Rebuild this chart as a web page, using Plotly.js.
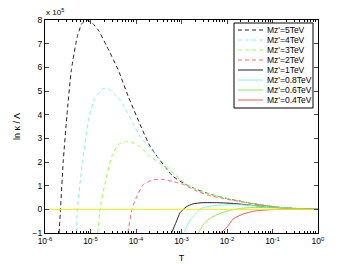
<!DOCTYPE html>
<html><head><meta charset="utf-8">
<script src="https://cdn.plot.ly/plotly-3.0.1.min.js"></script>
<style>html,body{margin:0;padding:0;background:#fff}#c{width:350px;height:264px}</style>
</head><body><div id="c"></div>
<script>
// Data (T values, y in units of 1e5)
const names = ["Mz'=5TeV","Mz'=4TeV","Mz'=3TeV","Mz'=2TeV","Mz'=1TeV","Mz'=0.8TeV","Mz'=0.6TeV","Mz'=0.4TeV"];
const colors = ['#222222','#7ff7e0','#99ff44','#ff6262','#222222','#7ff7e0','#88ee44','#ff5555'];
const dashes = ['4px,3px','4px,3px','4px,3px','4px,3px','solid','solid','solid','solid'];

const T5 = [2.04e-6,2.19e-6,2.51e-6,3.02e-6,3.80e-6,5.13e-6,6.46e-6,8.32e-6,1.12e-5,1.48e-5,2.29e-5,4.07e-5,6.76e-5,2.04e-4,6.46e-4,1.12e-3,2.14e-3,3.98e-3,7.94e-3,1.38e-2,3.16e-2,7.41e-2,2.0e-1,3.98e-1,1.0];
const Y5 = [-1.0,0.0,2.0,3.93,5.9,7.3,7.85,8.0,7.85,7.58,6.88,5.89,4.77,2.67,1.4,1.1,0.84,0.66,0.5,0.4,0.27,0.15,0.06,0.03,0.005];

const T4 = [4.90e-6,5.13e-6,6.61e-6,9.33e-6,1.26e-5,1.82e-5,2.24e-5,2.82e-5,4.47e-5,1.23e-4,3.98e-4,1.0e-3,2.57e-3,7.94e-3,1.38e-2,3.16e-2,7.41e-2,2.0e-1,3.98e-1,1.0];
const Y4 = [-1.0,0.0,1.97,3.93,4.7,5.08,5.12,5.0,4.63,3.09,1.97,1.2,0.76,0.5,0.4,0.27,0.15,0.06,0.03,0.005];

const T3 = [1.45e-5,1.62e-5,2.09e-5,2.95e-5,4.07e-5,6.76e-5,1.12e-4,2.04e-4,6.46e-4,1.26e-3,2.57e-3,7.94e-3,1.38e-2,3.16e-2,7.41e-2,2.0e-1,3.98e-1,1.0];
const Y3 = [-1.0,0.0,1.12,2.24,2.74,2.88,2.7,2.24,1.55,1.05,0.76,0.5,0.4,0.27,0.15,0.06,0.03,0.005];

const T2 = [6.61e-5,8.13e-5,1.05e-4,1.45e-4,2.40e-4,3.63e-4,6.31e-4,1.10e-3,2.0e-3,3.55e-3,7.94e-3,1.38e-2,3.16e-2,7.41e-2,2.0e-1,3.98e-1,1.0];
const Y2 = [-1.0,0.0,0.56,1.05,1.25,1.27,1.18,1.05,0.8,0.62,0.46,0.38,0.26,0.15,0.06,0.03,0.005];

const T1 = [6.03e-4,7.59e-4,9.33e-4,1.26e-3,1.78e-3,2.82e-3,6.31e-3,1.38e-2,3.16e-2,7.41e-2,2.0e-1,3.98e-1,1.0];
const Y1 = [-1.0,-0.55,-0.14,0.1,0.23,0.28,0.28,0.25,0.18,0.11,0.05,0.02,0.0];

const T08 = [1.10e-3,1.32e-3,1.55e-3,2.14e-3,2.82e-3,5.01e-3,1.0e-2,2.0e-2,5.01e-2,1.0e-1,2.51e-1,5.01e-1,1.0];
const Y08 = [-1.0,-0.72,-0.45,-0.14,0.05,0.15,0.19,0.19,0.14,0.1,0.05,0.02,0.0];

const T06 = [2.34e-3,3.16e-3,4.47e-3,7.08e-3,1.12e-2,2.0e-2,3.98e-2,7.94e-2,2.0e-1,5.01e-1,1.0];
const Y06 = [-1.0,-0.6,-0.35,-0.17,-0.05,0.04,0.08,0.07,0.04,0.015,0.0];

const T04 = [7.08e-3,9.55e-3,1.38e-2,2.24e-2,3.80e-2,7.94e-2,2.0e-1,1.0];
const Y04 = [-1.0,-0.8,-0.4,-0.2,-0.08,-0.02,0.0,0.0];

const Tzero = [1e-6,1.0];
const Yzero = [0,0];

const xTickVals = [1e-6,1e-5,1e-4,1e-3,1e-2,1e-1,1];
const xTickText = ['10<sup>-6</sup>','10<sup>-5</sup>','10<sup>-4</sup>','10<sup>-3</sup>','10<sup>-2</sup>','10<sup>-1</sup>','10<sup>0</sup>'];
const yTickVals = [-1,0,1,2,3,4,5,6,7,8];

const seriesT = [T5,T4,T3,T2,T1,T08,T06,T04];
const seriesY = [Y5,Y4,Y3,Y2,Y1,Y08,Y06,Y04];

const traces = seriesT.map((t,i)=>({
  x:t, y:seriesY[i], type:'scatter', mode:'lines', name:names[i],
  line:{color:colors[i], width:1, dash:dashes[i], shape:'spline', smoothing:0.5},
  showlegend:false, hoverinfo:'skip'
}));
traces.push({x:Tzero,y:Yzero,type:'scatter',mode:'lines',line:{color:'#eeee00',width:1},showlegend:false,hoverinfo:'skip'});

// plot area in pixels
const W=350,H=264, L=45,R=32,Tm=20,B=31;
const pw=W-L-R, ph=H-Tm-B;
const px=(x)=>(x-L)/pw, py=(y)=>(H-B-y)/ph;

const shapes=[{type:'rect',xref:'paper',yref:'paper',x0:px(234),x1:px(313),y0:py(108),y1:py(23),line:{color:'#000',width:1},fillcolor:'#fff'}];
const annotations=[{xref:'paper',yref:'paper',x:px(44),y:py(12),xanchor:'left',yanchor:'middle',text:'x 10<sup>5</sup>',showarrow:false,font:{size:8,color:'#000'}}];
names.forEach((n,i)=>{
  const yy=30+10*i;
  shapes.push({type:'line',xref:'paper',yref:'paper',x0:px(238),x1:px(263),y0:py(yy),y1:py(yy),line:{color:colors[i],width:1,dash:dashes[i]==='solid'?'solid':'4px,3px'}});
  annotations.push({xref:'paper',yref:'paper',x:px(265),y:py(yy),xanchor:'left',yanchor:'middle',text:n,showarrow:false,font:{size:8.5,color:'#000'}});
});

const layout={
  width:W,height:H,margin:{l:L,r:R,t:Tm,b:B},
  paper_bgcolor:'#fff',plot_bgcolor:'#fff',
  font:{family:'Liberation Sans, Arial, sans-serif',size:8,color:'#000'},
  showlegend:false,
  xaxis:{type:'log',range:[-6,0],tickvals:xTickVals,ticktext:xTickText,ticks:'inside',ticklen:4,
    mirror:'ticks',showline:true,linecolor:'#000',linewidth:1,showgrid:false,zeroline:false,
    tickfont:{size:8.5},
    minor:{ticks:'inside',ticklen:2,tickcolor:'#000',showgrid:false,dtick:'D1'},
    title:{text:'T',font:{size:9},standoff:9}},
  yaxis:{range:[-1,8],tickvals:yTickVals,ticks:'inside',ticklen:4,mirror:'ticks',showline:true,linecolor:'#000',linewidth:1,
    showgrid:false,zeroline:false,tickfont:{size:8.5},
    title:{text:'ln κ / Λ',font:{size:9},standoff:10}},
  shapes:shapes,annotations:annotations
};
Plotly.newPlot('c',traces,layout,{staticPlot:true});
</script></body></html>
